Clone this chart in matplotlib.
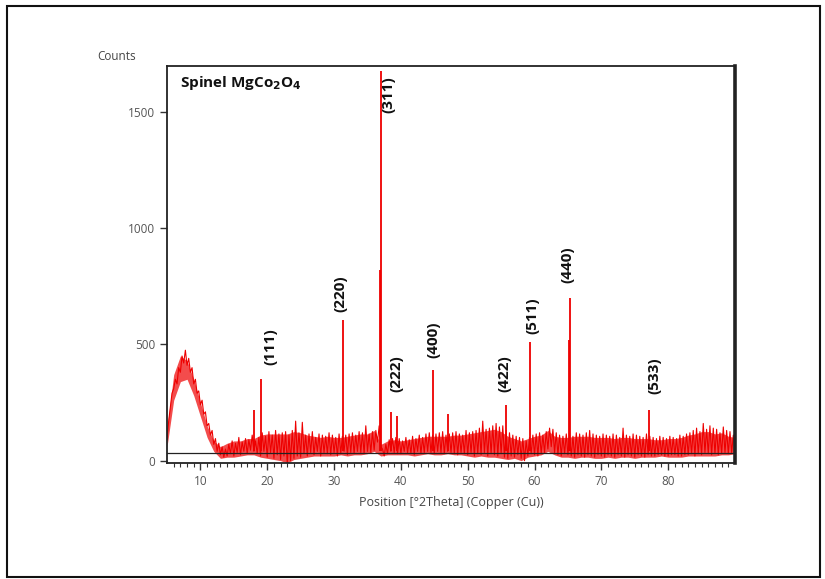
import numpy as np
import matplotlib
matplotlib.use("Agg")
import matplotlib.pyplot as plt
from matplotlib.patches import Rectangle

plt.rcParams['font.family'] = ['Open Sans', 'DejaVu Sans']

# ---- data ----
SCAN_START = 5.0
SCAN_STEP = 0.25
background = [
    90, 170, 230, 290,
    310, 350, 330, 400,
    380, 450, 420, 475,
    410, 440, 380, 400,
    330, 350, 290, 300,
    240, 260, 200, 210,
    150, 160, 110, 130,
    70, 95, 40, 75,
    25, 60, 15, 50,
    20, 70, 30, 85,
    20, 75, 35, 100,
    25, 80, 40, 95,
    30, 90, 45, 110,
    40, 85, 30, 100,
    20, 120, 40, 105,
    15, 125, 35, 110,
    10, 130, 25, 115,
    5, 120, 20, 125,
    -15, 110, 0, 130,
    10, 170, 20, 120,
    15, 165, 30, 110,
    20, 115, 35, 125,
    25, 100, 40, 115,
    20, 110, 35, 105,
    30, 120, 25, 110,
    35, 100, 20, 115,
    30, 105, 40, 110,
    25, 115, 35, 120,
    30, 110, 40, 125,
    35, 120, 30, 150,
    40, 115, 35, 125,
    45, 130, 80, 150,
    60, 50, 20, 70,
    30, 90, 40, 95,
    35, 100, 30, 95,
    30, 85, 40, 100,
    35, 90, 30, 105,
    25, 95, 40, 110,
    30, 100, 35, 115,
    40, 120, 35, 110,
    30, 115, 40, 120,
    35, 125, 30, 110,
    40, 115, 35, 120,
    30, 125, 25, 115,
    35, 110, 30, 130,
    25, 120, 35, 125,
    20, 130, 30, 140,
    25, 170, 35, 135,
    20, 140, 30, 150,
    25, 160, 20, 145,
    30, 150, 15, 130,
    10, 120, 20, 110,
    15, 105, 25, 100,
    10, 95, 0, 85,
    20, 100, 30, 110,
    25, 115, 20, 120,
    30, 110, 35, 125,
    50, 140, 60, 135,
    35, 120, 25, 110,
    20, 105, 30, 115,
    25, 110, 20, 105,
    15, 120, 25, 115,
    20, 110, 15, 120,
    25, 130, 20, 115,
    15, 110, 25, 105,
    20, 115, 15, 110,
    25, 105, 20, 115,
    15, 110, 25, 100,
    20, 140, 15, 110,
    25, 105, 20, 115,
    15, 110, 25, 105,
    20, 100, 15, 115,
    25, 105, 20, 100,
    20, 95, 25, 105,
    25, 100, 20, 95,
    20, 105, 25, 100,
    25, 95, 20, 110,
    20, 105, 25, 115,
    25, 120, 30, 130,
    20, 140, 30, 125,
    25, 160, 35, 135,
    30, 150, 25, 140,
    30, 135, 25, 120,
    30, 145, 35, 130,
    30, 125, 35, 110,
    40,
]
# noise band (1 degree steps, 5..90): lower and upper edge of the dense red trace
ENV_STEP = 1.0
noise_low = [60, 260, 340, 350, 280, 190, 100, 40, 10, 15, 15, 20, 25, 25, 15, 10, 5, 0,
             -10, 5, 10, 15, 20, 20, 20, 20, 25, 20, 25, 25, 30, 40, 20, 25, 25, 25, 25,
             20, 25, 30, 25, 25, 30, 25, 25, 20, 15, 20, 15, 15, 10, 5, 10, 0, 15, 20, 25,
             40, 25, 15, 15, 10, 15, 15, 10, 10, 15, 10, 15, 15, 10, 15, 15, 15, 20, 15,
             15, 15, 20, 20, 20, 20, 20, 25, 25, 30]
noise_high = [140, 370, 450, 430, 350, 250, 150, 85, 60, 75, 85, 85, 95, 95, 110, 115, 115,
              115, 115, 125, 120, 110, 105, 100, 105, 100, 100, 105, 110, 115, 115, 130, 70,
              85, 90, 85, 90, 95, 100, 105, 105, 105, 105, 110, 110, 115, 120, 125, 130, 135,
              125, 105, 95, 85, 95, 105, 110, 130, 105, 100, 100, 105, 105, 105, 100, 100,
              100, 95, 100, 100, 95, 95, 95, 90, 90, 95, 95, 100, 110, 115, 125, 125, 115,
              120, 105, 100]
peak_pos = [18.0, 19.0, 31.3, 36.85, 36.95, 38.55, 39.4, 44.85, 47.0, 55.7, 59.35, 65.15, 65.25, 77.2]
peak_height = [220, 350, 605, 820, 1675, 210, 190, 390, 200, 240, 510, 520, 700, 220]
peak_base = 40
baseline_level = 32

hkl_labels = ["(111)", "(220)", "(311)", "(222)", "(400)", "(422)", "(511)", "(440)", "(533)"]
hkl_x = [20.4, 31.0, 38.2, 39.4, 44.8, 55.5, 59.7, 64.9, 77.9]
hkl_y = [489, 717, 1575, 373, 519, 373, 622, 841, 365]

x_ticks = [10, 20, 30, 40, 50, 60, 70, 80]
y_ticks = [0, 500, 1000, 1500]

# ---- figure ----
fig = plt.figure(figsize=(8.25, 5.79), dpi=100)
ax = fig.add_axes([167/825, 1-463/579, 568/825, 397/579])

red = '#ee0000'
x_env = SCAN_START + ENV_STEP * np.arange(len(noise_low))
ax.fill_between(x_env, noise_low, noise_high, color=red, alpha=0.7, lw=0)
x_scan = SCAN_START + SCAN_STEP * np.arange(len(background))
ax.plot(x_scan, background, color=red, lw=0.8)
ax.vlines(peak_pos, peak_base, peak_height, color=red, lw=1.3)
ax.axhline(baseline_level, color='#222222', lw=0.9, zorder=4)

for lab, lx, ly in zip(hkl_labels, hkl_x, hkl_y):
    ax.text(lx, ly, lab, rotation=90, ha='center', va='center',
            fontsize=11, fontweight='bold', color='#111111')

ax.text(0.023, 0.957, "Spinel MgCo$_{\\mathbf{2}}$O$_{\\mathbf{4}}$", transform=ax.transAxes,
        ha='left', va='center', fontsize=11, fontweight='bold', color='#111111')

ax.set_xlim(5, 90)
ax.set_ylim(-10, 1697)
ax.set_xticks(x_ticks)
ax.set_xticks(np.arange(6, 90, 1), minor=True)
ax.set_yticks(y_ticks)
ax.tick_params(axis='both', which='major', direction='out', length=5, width=1,
               labelsize=8.5, labelcolor='#555555', color='#333333')
ax.tick_params(axis='x', which='minor', direction='out', length=3, width=0.8, color='#333333')
for s in ax.spines.values():
    s.set_linewidth(1.3)
    s.set_color('#222222')
ax.spines['right'].set_linewidth(2.6)
ax.set_xlabel("Position [°2Theta] (Copper (Cu))", fontsize=9, color='#444444', labelpad=6)

fig.text(97/825, 1-57/579, "Counts", fontsize=8.5, color='#444444', ha='left', va='center')

fig.patches.append(Rectangle((7/825, 1-577/579), 813/825, 571/579, transform=fig.transFigure,
                             fill=False, lw=1.5, edgecolor='#111111'))

fig.savefig("out.png", dpi=100)
